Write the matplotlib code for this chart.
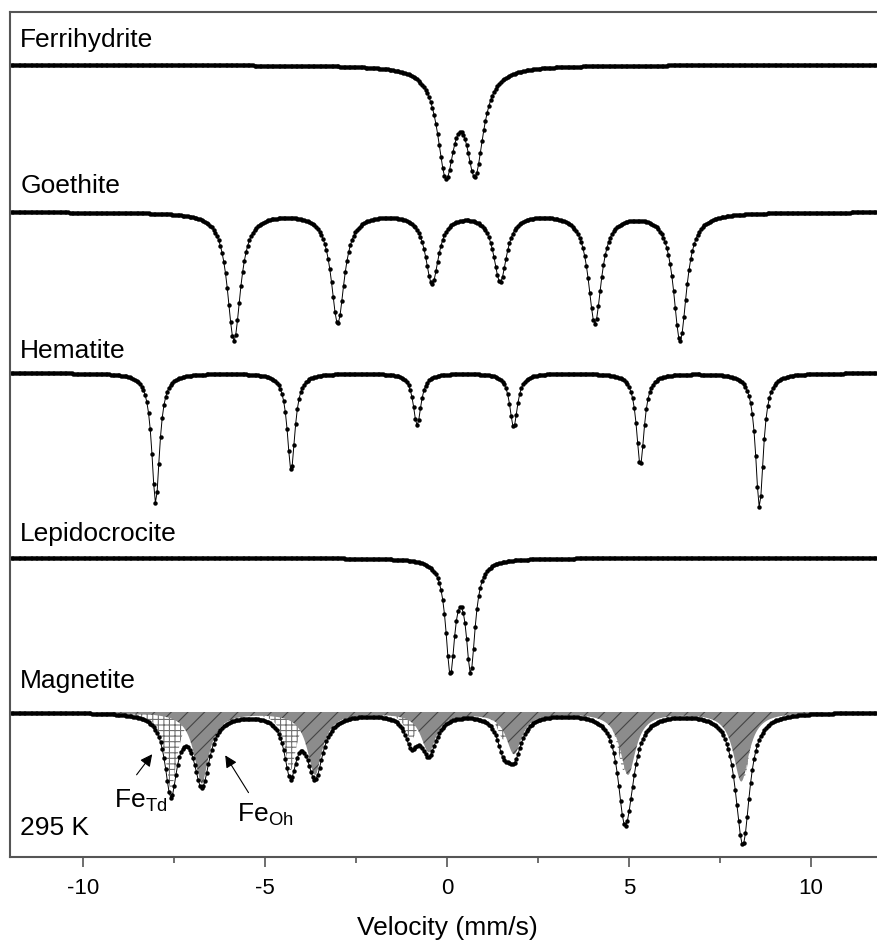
import numpy as np
import matplotlib
matplotlib.use("Agg")
import matplotlib.pyplot as plt

plt.rcParams['font.family'] = ['Liberation Sans', 'DejaVu Sans']
plt.rcParams['mathtext.fontset'] = 'custom'
plt.rcParams['mathtext.rm'] = 'Liberation Sans'
plt.rcParams['hatch.linewidth'] = 0.8
plt.rcParams['axes.unicode_minus'] = False

# velocity channels (mm/s)
v = np.linspace(-12, 12, 512)

# line positions (mm/s), depths (absorption, plot units), half widths (mm/s)
ferri_pos = [-0.03, 0.77]
ferri_depth = [103, 101]
ferri_hw = [0.28, 0.28]

goe_pos = [-5.85, -3.0, -0.41, 1.46, 4.06, 6.40]
goe_depth = [128, 110, 70, 68, 110, 128]
goe_hw = [0.22, 0.22, 0.22, 0.22, 0.22, 0.22]

hem_pos = [-8.0, -4.28, -0.82, 1.83, 5.31, 8.58]
hem_depth = [130, 97, 52, 54, 92, 134]
hem_hw = [0.13, 0.13, 0.13, 0.13, 0.13, 0.13]

lep_pos = [0.09, 0.65]
lep_depth = [110, 108]
lep_hw = [0.15, 0.15]

td_pos = [-7.58, -4.30, -0.98, 1.55, 4.85, 8.15]
td_depth = [79, 58, 27, 27, 58, 66]
td_hw = [0.2, 0.2, 0.2, 0.2, 0.2, 0.2]

oh_pos = [-6.73, -3.62, -0.50, 1.84, 4.97, 8.08]
oh_depth = [71, 62, 39, 41, 62, 69]
oh_hw = [0.26, 0.26, 0.26, 0.26, 0.26, 0.26]

names = ["Ferrihydrite", "Goethite", "Hematite", "Lepidocrocite", "Magnetite"]
baselines = [792, 645, 484, 299, 145]
label_y = [810, 664, 499, 316, 169]


def absorb(x, pos, depth, hw):
    out = np.zeros_like(x)
    for p, d, w in zip(pos, depth, hw):
        out += d / (1 + ((x - p) / w) ** 2)
    return out


fig = plt.figure(figsize=(8.77, 9.44), dpi=100)
ax = fig.add_axes([10 / 877, 87 / 944, 874 / 877, 845 / 944])

spectra = [
    absorb(v, ferri_pos, ferri_depth, ferri_hw),
    absorb(v, goe_pos, goe_depth, goe_hw),
    absorb(v, hem_pos, hem_depth, hem_hw),
    absorb(v, lep_pos, lep_depth, lep_hw),
]
for base, s in zip(baselines[:4], spectra):
    ax.plot(v, base - s, color='black', lw=0.7, marker='o', ms=3.2, mew=0)

# magnetite: two sub-spectra
vf = np.linspace(-12, 12, 1200)
td = absorb(vf, td_pos, td_depth, td_hw)
oh = absorb(vf, oh_pos, oh_depth, oh_hw)
mb = baselines[4]
ax.fill_between(vf, mb, mb - td, facecolor='white', edgecolor='#707070',
                hatch='+++', linewidth=0)
ax.fill_between(vf, mb, mb - oh, facecolor='#8c8c8c', edgecolor='#444444',
                hatch='//', linewidth=0)
ax.plot(vf, mb - td - oh, color='white', lw=2)
mag = absorb(v, td_pos, td_depth, td_hw) + absorb(v, oh_pos, oh_depth, oh_hw)
ax.plot(v, mb - mag, color='black', lw=0.7, marker='o', ms=3.2, mew=0)

for n, y in zip(names, label_y):
    ax.text(-11.72, y, n, fontsize=19, va='baseline', ha='left')

ax.text(-11.72, 22, "295 K", fontsize=19, va='baseline', ha='left')
ax.text(-9.15, 49, r"Fe$_{\mathregular{Td}}$", fontsize=19, va='baseline')
ax.text(-5.77, 35, r"Fe$_{\mathregular{Oh}}$", fontsize=19, va='baseline')
arrow = dict(arrowstyle='-|>', color='black', lw=0.8, mutation_scale=18)
ax.annotate('', xy=(-8.05, 105), xytext=(-8.57, 80), arrowprops=arrow)
ax.annotate('', xy=(-6.13, 104), xytext=(-5.41, 62), arrowprops=arrow)

ax.set_xlim(-12, 12)
ax.set_ylim(0, 845)
ax.set_yticks([])
ax.set_xticks([-10, -5, 0, 5, 10])
ax.set_xticks([-7.5, -2.5, 2.5, 7.5], minor=True)
ax.tick_params(axis='x', which='major', length=7, width=1.2, color='#555555',
               labelsize=16, pad=8)
ax.tick_params(axis='x', which='minor', length=4, width=1.2, color='#555555')
for sp in ax.spines.values():
    sp.set_color('#555555')
    sp.set_linewidth(1.5)
ax.set_xlabel("Velocity (mm/s)", fontsize=19, labelpad=12)

fig.savefig("out.png", dpi=100)
